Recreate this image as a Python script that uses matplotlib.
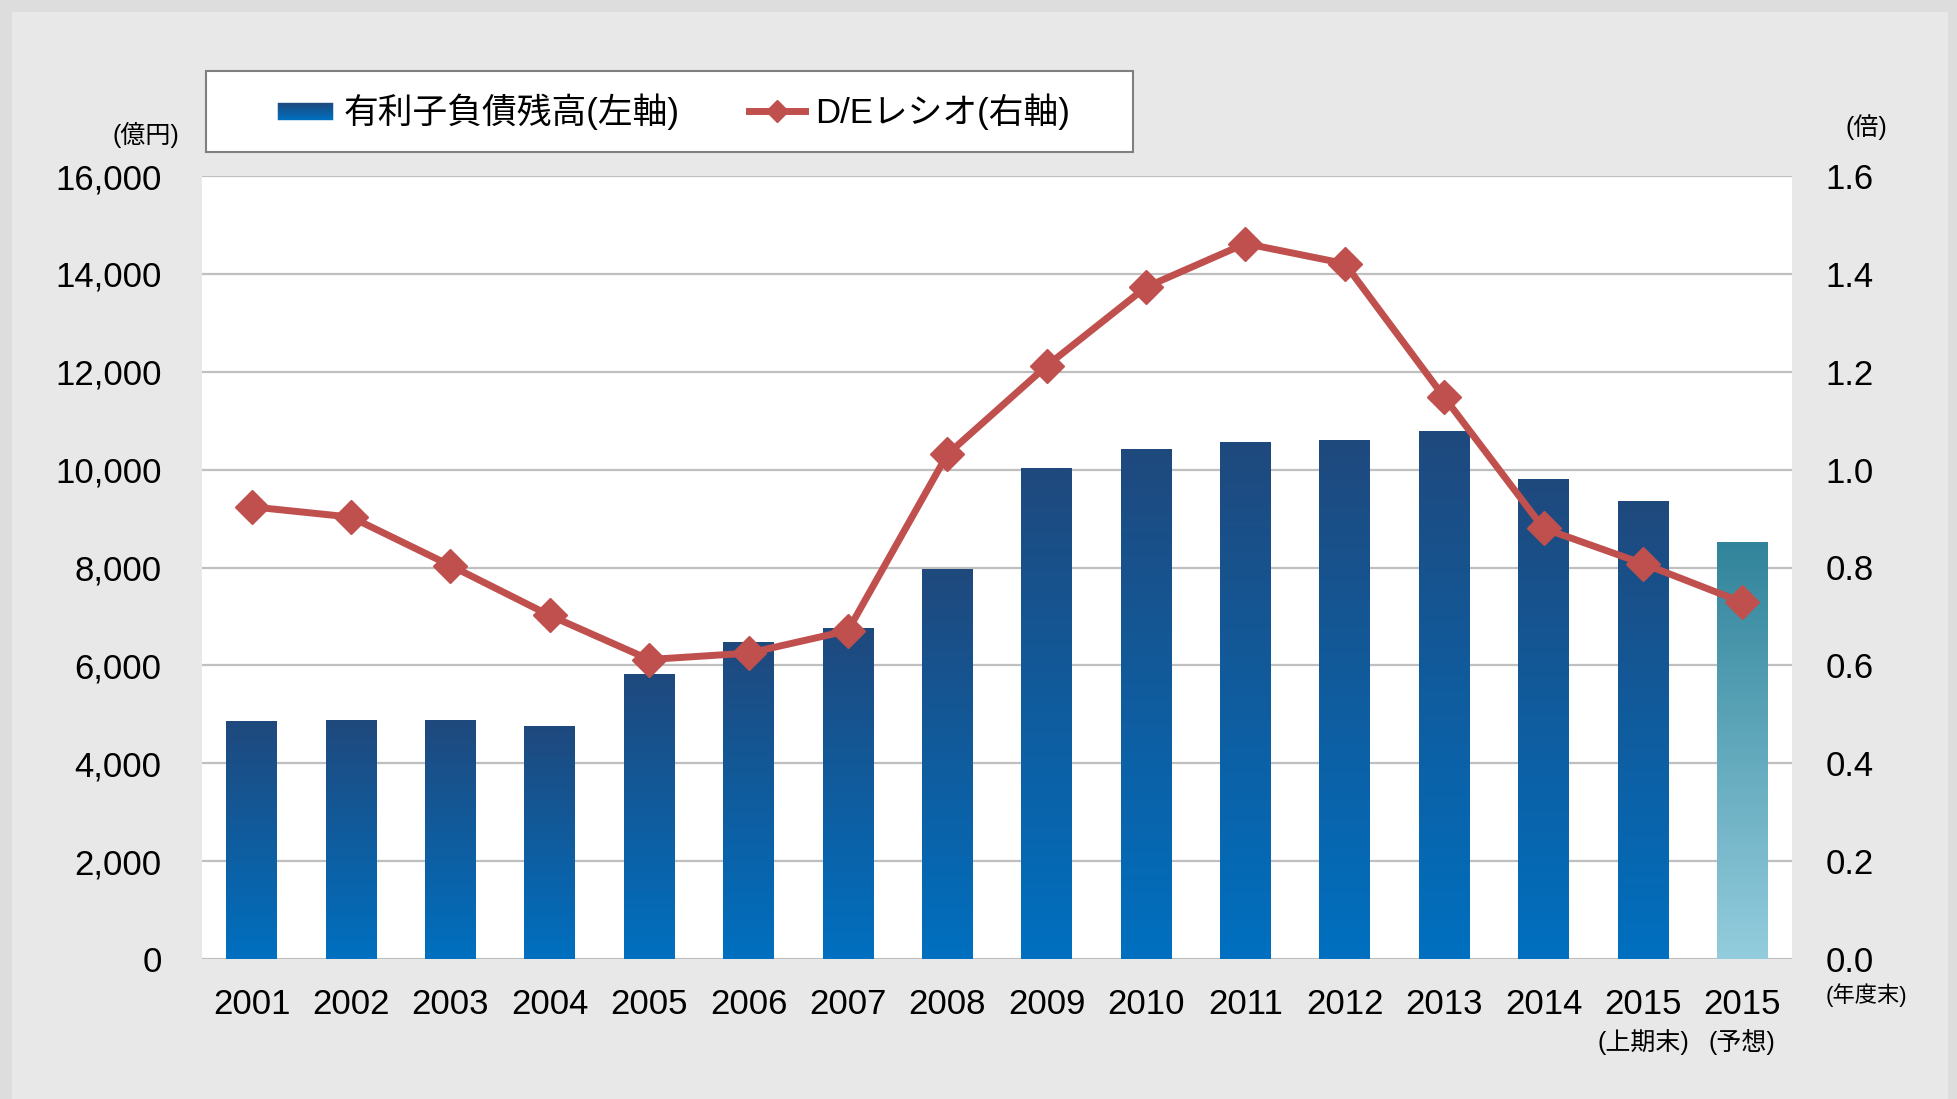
import numpy as np
import matplotlib
matplotlib.use('Agg')
import matplotlib.pyplot as plt
from matplotlib.colors import LinearSegmentedColormap
from matplotlib.patches import Rectangle
from matplotlib.lines import Line2D
from matplotlib.legend_handler import HandlerBase
from matplotlib.transforms import blended_transform_factory

plt.rcParams['font.family'] = ['Liberation Sans', 'Noto Sans CJK JP', 'DejaVu Sans']

# データ
years = ['2001', '2002', '2003', '2004', '2005', '2006', '2007', '2008',
         '2009', '2010', '2011', '2012', '2013', '2014', '2015', '2015']
year_notes = ['', '', '', '', '', '', '', '', '', '', '', '', '', '', '(上期末)', '(予想)']
debt = [4860, 4870, 4870, 4750, 5820, 6460, 6760, 7960,
        10030, 10410, 10560, 10590, 10770, 9790, 9340, 8510]
de_ratio = [0.924, 0.903, 0.804, 0.702, 0.612, 0.625, 0.671, 1.031,
            1.212, 1.373, 1.462, 1.421, 1.148, 0.880, 0.808, 0.729]
left_ticks = [0, 2000, 4000, 6000, 8000, 10000, 12000, 14000, 16000]
right_ticks = [0.0, 0.2, 0.4, 0.6, 0.8, 1.0, 1.2, 1.4, 1.6]

label_debt = '有利子負債残高(左軸)'
label_de = 'D/Eレシオ(右軸)'

# 色
cmap_actual = LinearSegmentedColormap.from_list('actual', ['#0070C0', '#1F497D'])
cmap_forecast = LinearSegmentedColormap.from_list('forecast', ['#93CDDD', '#31849B'])
line_color = '#C0504D'


class GradHandler(HandlerBase):
    # 凡例用のグラデーション四角
    def create_artists(self, legend, orig_handle, xdescent, ydescent,
                       width, height, fontsize, trans):
        n = 12
        h = height * 0.7
        y0 = -ydescent + (height - h) / 2
        arts = []
        for k in range(n):
            c = cmap_actual((k + 0.5) / n)
            arts.append(Rectangle((-xdescent, y0 + h * k / n), width, h / n,
                                  facecolor=c, edgecolor=c, lw=0.3, transform=trans))
        return arts


fig = plt.figure(figsize=(19.57, 10.99), dpi=100, facecolor='#DDDDDD')
W, H = 1957, 1099
fig.patches.append(Rectangle((12 / W, 0), (1948 - 12) / W, 1 - 12 / H,
                             transform=fig.transFigure, facecolor='#E8E8E8',
                             edgecolor='none', zorder=-10))

ax = fig.add_axes([202 / W, 1 - 959 / H, 1590 / W, 783 / H])
ax.set_facecolor('white')

x = np.arange(len(years))
bar_w = 0.51
for i, v in enumerate(debt):
    cm = cmap_forecast if i == len(debt) - 1 else cmap_actual
    grad = np.linspace(0, 1, 256).reshape(-1, 1)
    ax.imshow(grad, extent=[x[i] - bar_w / 2, x[i] + bar_w / 2, 0, v],
              cmap=cm, aspect='auto', origin='lower', zorder=2, interpolation='bilinear')

ax.set_xlim(-0.5, len(years) - 0.5)
ax.set_ylim(0, 16000)
ax.set_yticks(left_ticks)
ax.set_yticklabels([f'{t:,}' for t in left_ticks])
ax.set_xticks(x)
ax.set_xticklabels(years)
ax.yaxis.grid(True, color='#BFBFBF', lw=1.6)
ax.set_axisbelow(True)
ax.tick_params(axis='y', length=0, pad=29, labelsize=25)
ax.tick_params(axis='x', length=0, pad=21, labelsize=25)
for s in ax.spines.values():
    s.set_visible(False)

ax2 = ax.twinx()
ax2.plot(x, de_ratio, color=line_color, lw=5, marker='D', ms=17, zorder=3)
ax2.set_ylim(0, 1.6)
ax2.set_yticks(right_ticks)
ax2.set_yticklabels([f'{t:.1f}' for t in right_ticks])
ax2.tick_params(axis='y', length=0, pad=24, labelsize=25)
for s in ax2.spines.values():
    s.set_visible(False)

# 補足ラベル
tr = blended_transform_factory(ax.transData, fig.transFigure)
for i, note in enumerate(year_notes):
    if note:
        ax.text(x[i], 1 - 1042 / H, note, transform=tr, ha='center', va='center', fontsize=18)
fig.text(146 / W, 1 - 135 / H, '(億円)', ha='center', va='center', fontsize=18)
fig.text(1866 / W, 1 - 127 / H, '(倍)', ha='center', va='center', fontsize=18)
fig.text(1866 / W, 1 - 995 / H, '(年度末)', ha='center', va='center', fontsize=16)

# 凡例
fig.patches.append(Rectangle((206 / W, 1 - 152 / H), 927 / W, 81 / H,
                             transform=fig.transFigure, facecolor='white',
                             edgecolor='#7F7F7F', lw=1.5, zorder=1))
h_bar = Rectangle((0, 0), 1, 1)
h_line = Line2D([], [], color=line_color, lw=5, marker='D', ms=11)
fig.legend([h_bar, h_line], [label_debt, label_de], loc='center',
           bbox_to_anchor=(674 / W, 1 - 112 / H), ncol=2, frameon=False,
           fontsize=25, handlelength=1.6, handletextpad=0.3, columnspacing=2.0,
           handler_map={Rectangle: GradHandler()})

plt.savefig('out.png', dpi=100, facecolor=fig.get_facecolor())
